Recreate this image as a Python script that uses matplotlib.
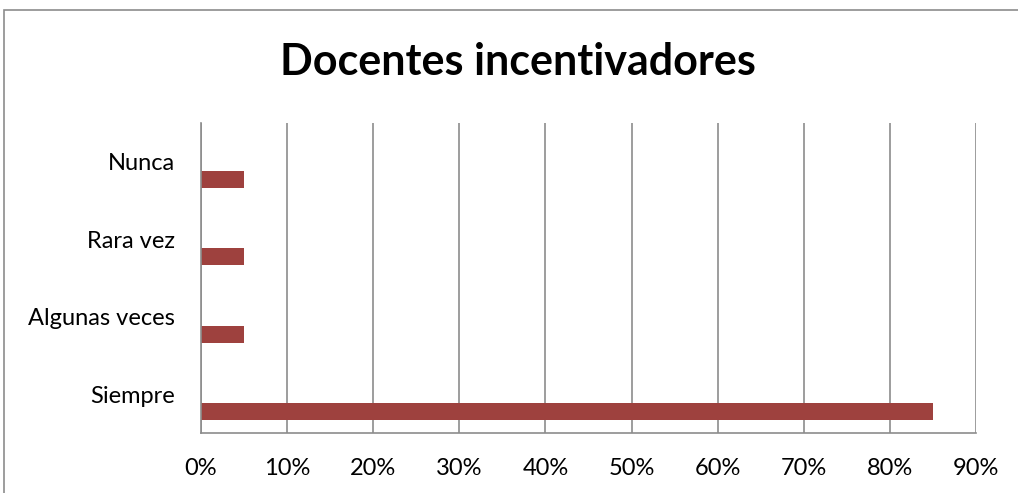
import matplotlib
matplotlib.use("Agg")
import matplotlib.pyplot as plt
import matplotlib.patches as patches
from matplotlib.ticker import FuncFormatter

plt.rcParams["font.family"] = ["Lato", "DejaVu Sans"]

categories = ["Siempre", "Algunas veces", "Rara vez", "Nunca"]
values = [0.85, 0.05, 0.05, 0.05]
xticks = [0.0, 0.1, 0.2, 0.3, 0.4, 0.5, 0.6, 0.7, 0.8, 0.9]

W, H = 1018, 493
fig = plt.figure(figsize=(W / 100, H / 100), dpi=100)
fig.patch.set_facecolor("white")

# outer chart border (runs off the right and bottom edges)
fig.add_artist(patches.Rectangle((4 / W, -0.05), 1.1, (H - 10) / H + 0.05,
                                 transform=fig.transFigure, fill=False,
                                 edgecolor="#8c8c8c", linewidth=1.2))

# plot area in pixels: x 201..976, y 123..433
ax = fig.add_axes([201 / W, (H - 433) / H, 775 / W, 310 / H])

pos = list(range(len(categories)))
ax.barh([p - 0.225 for p in pos], values, height=0.22, color="#9E413E")

ax.set_xlim(0, 0.9)
ax.set_ylim(-0.5, len(categories) - 0.5)
ax.set_xticks(xticks)
ax.xaxis.set_major_formatter(FuncFormatter(lambda v, _: f"{v*100:.0f}%"))
ax.set_yticks(pos)
ax.set_yticklabels(categories)
ax.tick_params(axis="both", length=0, labelsize=17, colors="black")
ax.tick_params(axis="x", pad=18)
ax.tick_params(axis="y", pad=19)

ax.grid(axis="x", color="#8c8c8c", linewidth=1.2)
ax.set_axisbelow(True)
for s in ["top", "right"]:
    ax.spines[s].set_visible(False)
for s in ["left", "bottom"]:
    ax.spines[s].set_color("#8c8c8c")
    ax.spines[s].set_linewidth(1.2)

fig.text(518 / W, 1 - 62 / H, "Docentes incentivadores", ha="center",
         va="center", fontsize=31, fontweight="bold")

fig.savefig("out.png", dpi=100, facecolor="white")
